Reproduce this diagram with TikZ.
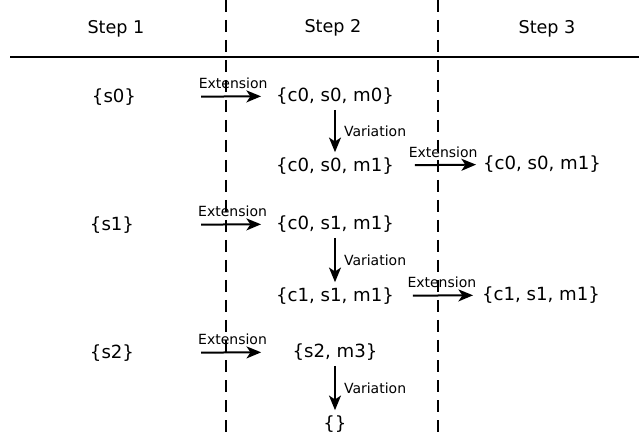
\documentclass[tikz,border=0pt]{standalone}
\usepackage{fontspec}
\setmainfont{DejaVu Sans}
\usetikzlibrary{arrows.meta}

\begin{document}
\begin{tikzpicture}[x=0.75pt, y=-0.75pt, >={Stealth[length=11pt,width=9pt,inset=3pt]}, line width=1.5pt,
    set/.style={font=\fontsize{13.6}{16}\selectfont},
    head/.style={font=\fontsize{13.2}{16}\selectfont},
    lbl/.style={font=\fontsize{10.5}{12}\selectfont, inner sep=1pt},
    var/.style={->, shorten <=0pt, shorten >=0pt}]
    \useasboundingbox (0,0) rectangle (639,438);

    % Columns
    \coordinate (l1) at (226,0);
    \coordinate (l2) at (438,0);
    \draw [dash pattern=on 9pt off 6pt, line width=1.5pt] (l1) -- ++(0,438);
    \draw [dash pattern=on 9pt off 6pt, line width=1.5pt] (l2) -- ++(0,438);
    \coordinate (h1) at (10,57);
    \coordinate (h2) at (639,57);
    \draw [line width=1.5pt] (h1) -- (h2);

    % Headers
    \node [head] (st1) at (116,29) {Step 1};
    \node [head] (st2) at (333,28) {Step 2};
    \node [head] (st3) at (547,29) {Step 3};

    % Nodes {s0, s1, s2, etc}
    \node [set] (s0) at (114,97)  {\{s0\}};
    \node [set] (s1) at (112,225) {\{s1\}};
    \node [set] (s2) at (112,353) {\{s2\}};

    \node [set] (c0s0m0)  at (335,96)  {\{c0, s0, m0\}};
    \node [set] (c0s0m1)  at (335,166) {\{c0, s0, m1\}};
    \node [set] (c0s1m1)  at (335,224) {\{c0, s1, m1\}};
    \node [set] (c1s1m1)  at (335,296) {\{c1, s1, m1\}};
    \node [set] (s2m3)    at (335,352) {\{s2, m3\}};
    \node [set] (empty)   at (335,424) {\{\}};

    \node [set] (c0s0m1b) at (542,164) {\{c0, s0, m1\}};
    \node [set] (c1s1m1b) at (541,295) {\{c1, s1, m1\}};

    % Paths
    \path [->, shorten <=44.7pt, shorten >=7.2pt] (s0) edge node [lbl, above=4pt, pos=0.71] {Extension} (c0s0m0);
    \path [->, shorten <=46.2pt, shorten >=7.2pt] (s1) edge node [lbl, above=4pt, pos=0.71] {Extension} (c0s1m1);
    \path [->, shorten <=46.2pt, shorten >=19.5pt] (s2) edge node [lbl, above=4pt, pos=0.63] {Extension} (s2m3);

    \path [var] (c0s0m0) edge node [lbl, right=5pt] {Variation} (c0s0m1);
    \path [var] (c0s1m1) edge node [lbl, right=5pt] {Variation} (c1s1m1);
    \path [var] (s2m3)   edge node [lbl, right=5pt] {Variation} (empty);

    \path [->, shorten <=11.7pt, shorten >=1.2pt] (c0s0m1) edge node [lbl, above=4pt, pos=0.56] {Extension} (c0s0m1b);
    \path [->, shorten <=10.2pt, shorten >=2.7pt] (c1s1m1) edge node [lbl, above=4pt, pos=0.55] {Extension} (c1s1m1b);

\end{tikzpicture}
\end{document}
